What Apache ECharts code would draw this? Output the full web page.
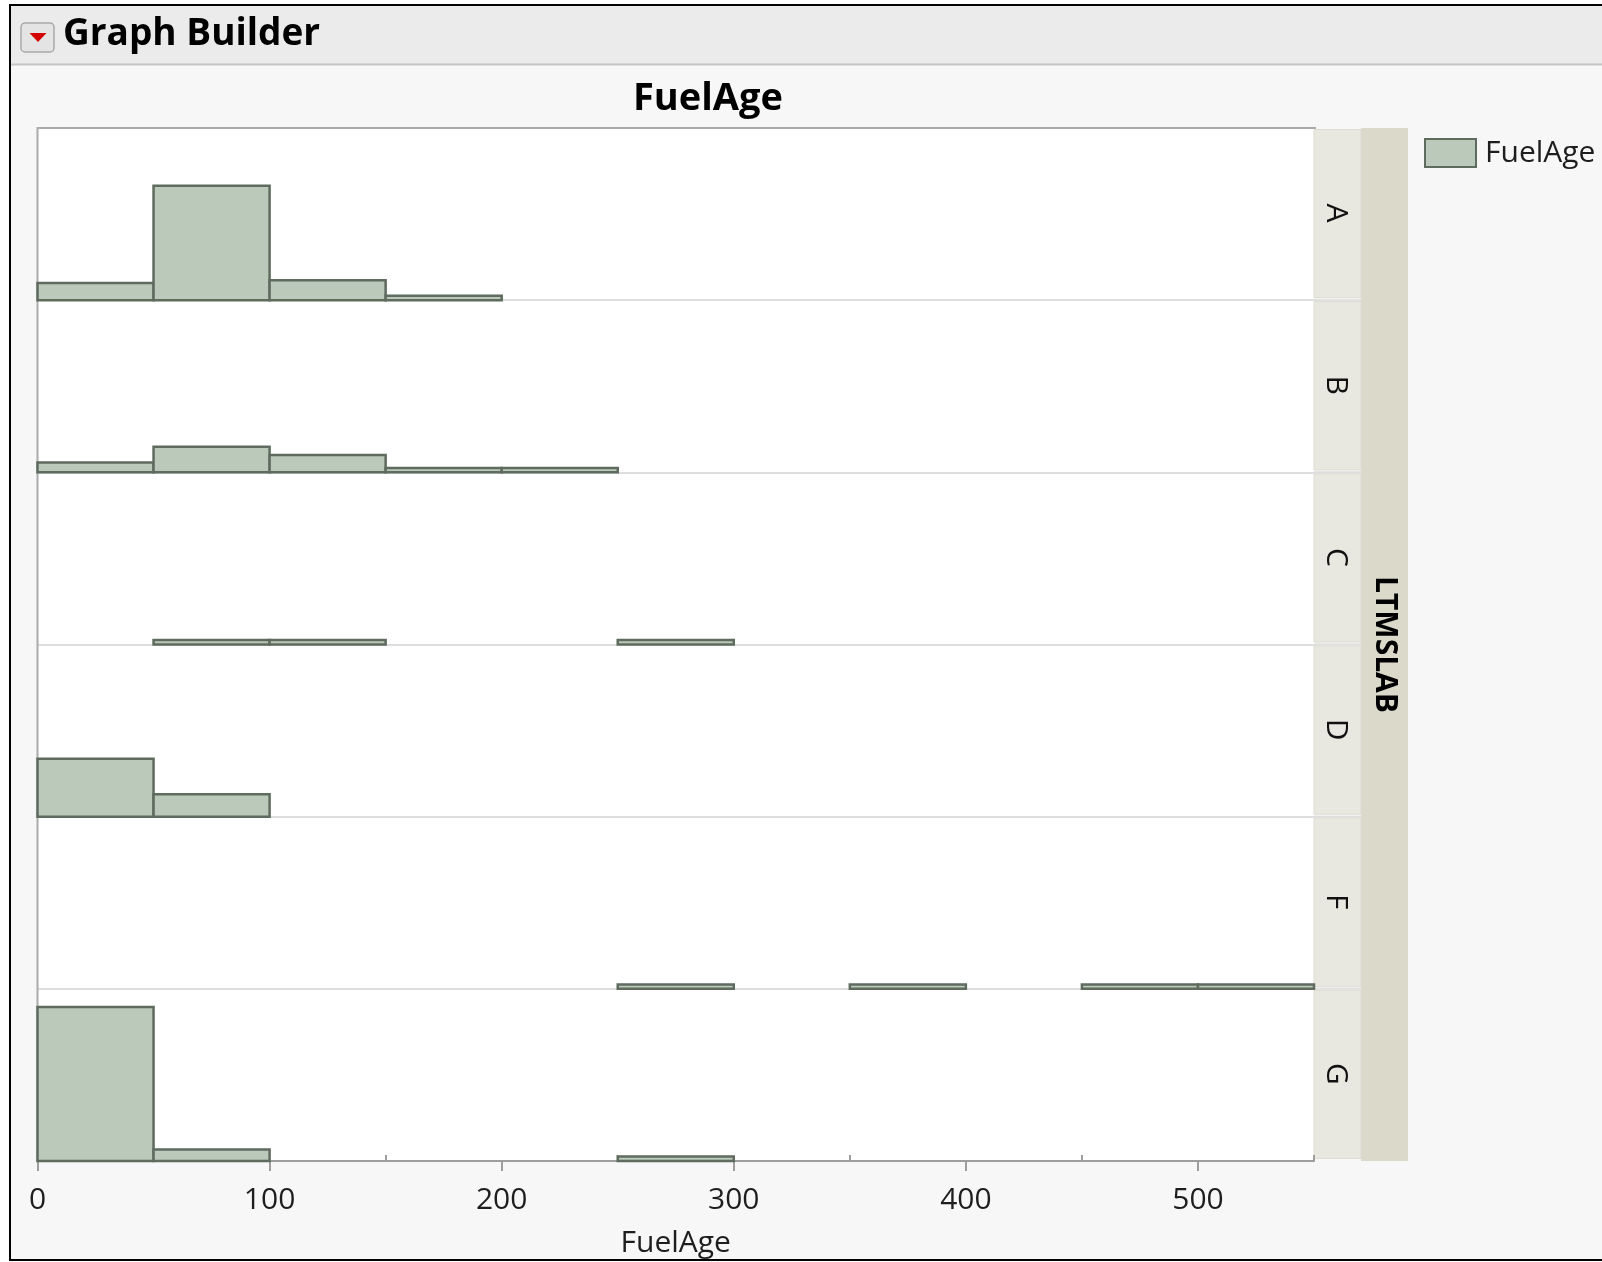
<!DOCTYPE html>
<html>
<head>
<meta charset="utf-8">
<title>Graph Builder - FuelAge</title>
<script src="https://cdn.jsdelivr.net/npm/echarts@6/dist/echarts.min.js"></script>
<style>
  html, body { margin: 0; padding: 0; background: #ffffff; }
  #chart { width: 1602px; height: 1262px; }
</style>
</head>
<body>
<div id="chart"></div>
<script>
// Lab groups (LTMSLAB) shown as stacked panels, top to bottom
const labs = ['A', 'B', 'C', 'D', 'F', 'G'];

// Histogram bins of FuelAge: each bin is 50 wide, starting at these values
const binStarts = [0, 50, 100, 150, 200, 250, 300, 350, 400, 450, 500];
const binWidth = 50;

// Bar heights per bin for each lab (same order as binStarts)
const countsA = [3.9, 25.9, 4.5, 1, 0, 0, 0, 0, 0, 0, 0];
const countsB = [2.2, 5.8, 3.9, 1, 1, 0, 0, 0, 0, 0, 0];
const countsC = [0, 1, 1, 0, 0, 1, 0, 0, 0, 0, 0];
const countsD = [13.1, 5.1, 0, 0, 0, 0, 0, 0, 0, 0, 0];
const countsF = [0, 0, 0, 0, 0, 1, 0, 1, 0, 1, 1];
const countsG = [34.9, 2.6, 0, 0, 0, 1, 0, 0, 0, 0, 0];

// X axis ticks
const xMajorTicks = [0, 100, 200, 300, 400, 500];
const xMinorTicks = [50, 150, 250, 350, 450, 550];
const xMin = 0;
const xMax = 550;
const yMax = 39;

const countsByLab = [countsA, countsB, countsC, countsD, countsF, countsG];

// ---- layout ----
const FONT = "'Open Sans', 'Noto Sans', sans-serif";
const plotLeft = 37.5;
const plotRight = 1314;
const plotTop = 128;
const plotBottom = 1161;
const panelH = (plotBottom - plotTop) / labs.length;
const stripInnerX = plotRight;
const stripInnerW = 47;
const stripOuterX = stripInnerX + stripInnerW;
const stripOuterW = 47;

const BAR_FILL = '#bac9ba';
const BAR_STROKE = '#5f6b5f';

function binsFor(counts) {
  const out = [];
  counts.forEach((c, i) => {
    if (c > 0) out.push([binStarts[i], binStarts[i] + binWidth, c]);
  });
  return out;
}

function renderBin(params, api) {
  const p0 = api.coord([api.value(0), 0]);
  const p1 = api.coord([api.value(1), api.value(2)]);
  return {
    type: 'rect',
    shape: { x: p0[0], y: p1[1], width: p1[0] - p0[0], height: p0[1] - p1[1] },
    style: { fill: BAR_FILL, stroke: BAR_STROKE, lineWidth: 2.5 }
  };
}

const grids = [], xAxes = [], yAxes = [], series = [];
labs.forEach((lab, i) => {
  const last = i === labs.length - 1;
  grids.push({
    left: plotLeft, width: plotRight - plotLeft,
    top: plotTop + i * panelH, height: panelH,
    containLabel: false
  });
  xAxes.push({
    type: 'value', gridIndex: i, min: xMin, max: xMax,
    splitLine: { show: false },
    axisLine: { show: true, onZero: false, lineStyle: { color: last ? '#9e9e9e' : '#dedede', width: 2 } },
    axisTick: last ? {
      show: true, length: 10, lineStyle: { color: '#9e9e9e', width: 2 },
      customValues: xMajorTicks
    } : { show: false },
    axisLabel: last ? {
      show: true, margin: 24, fontSize: 30, color: '#1e1e1e', fontFamily: FONT,
      customValues: xMajorTicks
    } : { show: false },
    name: last ? 'FuelAge' : '',
    nameLocation: 'middle',
    nameGap: 67,
    nameTextStyle: { fontSize: 30, color: '#1e1e1e', fontFamily: FONT }
  });
  yAxes.push({ type: 'value', gridIndex: i, min: 0, max: yMax, show: false });
  series.push({
    name: 'FuelAge', type: 'custom', xAxisIndex: i, yAxisIndex: i,
    renderItem: renderBin, data: binsFor(countsByLab[i]), z: 3,
    itemStyle: { color: BAR_FILL, borderColor: BAR_STROKE, borderWidth: 2 },
    encode: { x: [0, 1], y: 2 }
  });
});

// Minor ticks on the bottom axis
xAxes.push({
  type: 'value', gridIndex: labs.length - 1, min: xMin, max: xMax,
  splitLine: { show: false },
  axisLine: { show: false },
  axisTick: { show: true, length: 6, lineStyle: { color: '#9e9e9e', width: 2 }, customValues: xMinorTicks },
  axisLabel: { show: false }
});

// ---- decorations: window frame, header, plot frame, group strips ----
const graphics = [];
// panel background and window frame
graphics.push({ type: 'rect', z: -10, shape: { x: 10, y: 5, width: 1600, height: 1255 },
  style: { fill: '#f7f7f7', stroke: '#000', lineWidth: 2 } });
// header bar
graphics.push({ type: 'rect', z: -9, shape: { x: 11, y: 6, width: 1592, height: 58 },
  style: { fill: '#ebebeb' } });
graphics.push({ type: 'line', z: -8, shape: { x1: 11, y1: 64.5, x2: 1602, y2: 64.5 },
  style: { stroke: '#c4c4c4', lineWidth: 2 } });
// disclosure button with red triangle
graphics.push({ type: 'rect', z: -7, shape: { x: 21, y: 23, width: 33, height: 29, r: 4 },
  style: { fill: '#e4e4e4', stroke: '#a9a9a9', lineWidth: 1.5 } });
graphics.push({ type: 'polygon', z: -6, shape: { points: [[29.5, 33], [46.5, 33], [38, 42]] },
  style: { fill: '#d40000' } });
graphics.push({ type: 'text', z: -6, left: 63, top: 16,
  style: { text: 'Graph Builder', font: "bold 37px " + FONT, fill: '#000' } });
// chart title
graphics.push({ type: 'text', z: 5, x: 708, y: 99,
  style: { text: 'FuelAge', font: "bold 38px " + FONT, fill: '#000', align: 'center', verticalAlign: 'middle' } });
// white plot area with border
graphics.push({ type: 'rect', z: -5, shape: { x: plotLeft, y: plotTop, width: plotRight - plotLeft, height: plotBottom - plotTop },
  style: { fill: '#ffffff' } });
graphics.push({ type: 'polyline', z: 1, shape: { points: [[plotLeft, plotBottom], [plotLeft, plotTop], [plotRight + 2, plotTop]] },
  style: { stroke: '#ababab', lineWidth: 2, fill: null } });
// outer strip (group variable name)
graphics.push({ type: 'rect', z: -5, shape: { x: stripOuterX, y: plotTop, width: stripOuterW, height: plotBottom - plotTop },
  style: { fill: '#dbd9ca' } });
graphics.push({ type: 'text', z: 5, x: stripOuterX + stripOuterW / 2, y: plotTop + (plotBottom - plotTop) / 2,
  rotation: -Math.PI / 2,
  style: { text: 'LTMSLAB', font: "bold 30px " + FONT, fill: '#000', align: 'center', verticalAlign: 'middle' } });
// inner strip cells with lab labels
labs.forEach((lab, i) => {
  const y0 = plotTop + i * panelH;
  graphics.push({ type: 'rect', z: -4, shape: { x: stripInnerX, y: y0 + 1.5, width: stripInnerW, height: panelH - 4 },
    style: { fill: '#e8e8e1', stroke: '#dcdcd2', lineWidth: 1 } });
  graphics.push({ type: 'text', z: 5, x: stripInnerX + stripInnerW / 2 - 2, y: y0 + panelH / 2 - 1,
    rotation: -Math.PI / 2,
    style: { text: lab, font: "30px " + FONT, fill: '#111', align: 'center', verticalAlign: 'middle' } });
  if (i < labs.length - 1) {
    graphics.push({ type: 'line', z: -3, shape: { x1: plotRight, y1: y0 + panelH, x2: stripOuterX, y2: y0 + panelH },
      style: { stroke: '#dedede', lineWidth: 2 } });
  }
});

const chart = echarts.init(document.getElementById('chart'), null, { renderer: 'canvas' });
chart.setOption({
  animation: false,
  backgroundColor: '#ffffff',
  textStyle: { fontFamily: FONT },
  grid: grids,
  xAxis: xAxes,
  yAxis: yAxes,
  legend: {
    data: ['FuelAge'], left: 1424, top: 138, orient: 'vertical', padding: 0,
    itemWidth: 51, itemHeight: 28, icon: 'rect',
    itemStyle: { color: BAR_FILL, borderColor: BAR_STROKE, borderWidth: 2 },
    textStyle: { fontSize: 30, color: '#1e1e1e', fontFamily: FONT, padding: [0, 0, 0, 4] },
    selectedMode: false
  },
  graphic: graphics,
  series: series
});
</script>
</body>
</html>
